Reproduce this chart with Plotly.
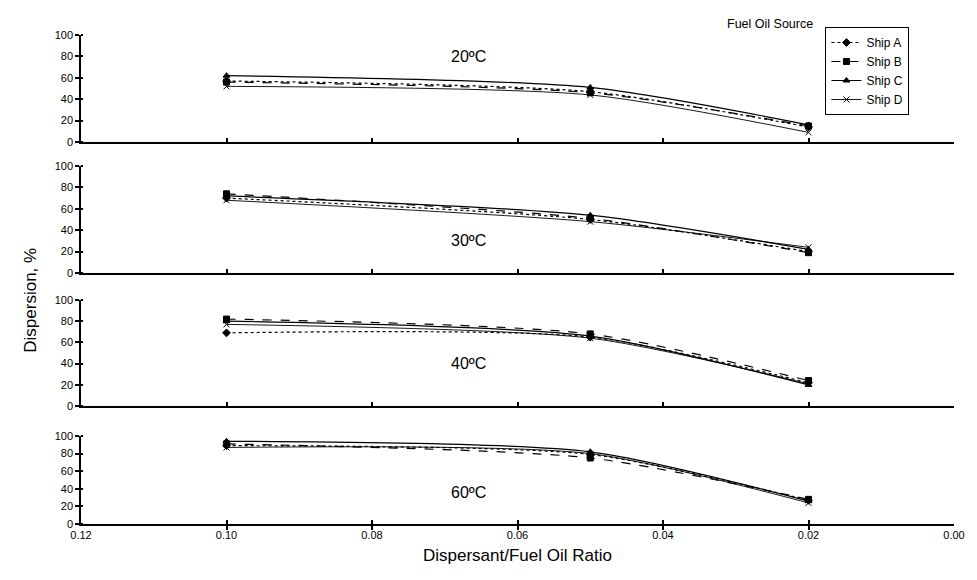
import plotly.graph_objects as go
from plotly.subplots import make_subplots

ratios = [0.10, 0.05, 0.02]
ships = ["Ship A", "Ship B", "Ship C", "Ship D"]
temps = ["20ºC", "30ºC", "40ºC", "60ºC"]

t20 = {"Ship A": [57, 47, 14], "Ship B": [56, 46, 15], "Ship C": [62, 51, 16], "Ship D": [52, 44, 9]}
t30 = {"Ship A": [70, 50, 20], "Ship B": [74, 51, 19], "Ship C": [72, 54, 22], "Ship D": [68, 48, 24]}
t40 = {"Ship A": [69, 65, 22], "Ship B": [82, 68, 24], "Ship C": [80, 66, 20], "Ship D": [77, 64, 21]}
t60 = {"Ship A": [89, 79, 27], "Ship B": [91, 75, 28], "Ship C": [94, 82, 26], "Ship D": [87, 80, 24]}
panels = [t20, t30, t40, t60]
label_y = [80, 30, 40, 36]

styles = {
    "Ship A": dict(dash="dot", symbol="diamond", msize=6, width=1.2),
    "Ship B": dict(dash="dash", symbol="square", msize=6, width=1.2),
    "Ship C": dict(dash="solid", symbol="triangle-up", msize=6, width=1.2),
    "Ship D": dict(dash="solid", symbol="x-thin", msize=6, width=0.9),
}

FONT = "Liberation Sans, Arial, sans-serif"
OFF = 8  # page body margin
W, H = 977 - OFF, 580 - OFF
# desired screen positions
SL, SR, ST, SB = 81, 957, 35, 524
L, T = SL - OFF, ST - OFF
R = W - (SR - OFF)
B = H - (SB - OFF)
ph = SB - ST
pw = SR - SL

def py(px):
    return (SB - px) / ph

def pxx(px):
    return (px - SL) / pw

fig = make_subplots(rows=4, cols=1, shared_xaxes=False, vertical_spacing=0.02)

for i, data in enumerate(panels):
    for s in ships:
        st = styles[s]
        fig.add_trace(
            go.Scatter(
                x=ratios, y=data[s], name=s, mode="lines+markers",
                line=dict(color="black", width=st["width"], dash=st["dash"],
                          shape="spline", smoothing=0.7),
                marker=dict(symbol=st["symbol"], size=st["msize"], color="black",
                            line=dict(color="black", width=1)),
                showlegend=(i == 0), legendgroup=s,
            ),
            row=i + 1, col=1,
        )

domains = [
    [py(142), py(35)],
    [py(273), py(166)],
    [py(406), py(300)],
    [py(524), py(436)],
]

for i in range(4):
    xa = "xaxis" if i == 0 else f"xaxis{i+1}"
    ya = "yaxis" if i == 0 else f"yaxis{i+1}"
    fig.layout[ya].update(
        domain=domains[i], range=[0, 100], tick0=0, dtick=20,
        showline=True, linecolor="black", linewidth=1.5,
        ticks="outside", ticklen=4, tickwidth=1.5, tickcolor="black",
        minor=dict(ticks="inside", dtick=20, tick0=0, ticklen=2, tickwidth=1.5, tickcolor="black"),
        showgrid=False, zeroline=False,
        tickfont=dict(family=FONT, size=11, color="black"),
    )
    fig.layout[xa].update(
        range=[0.12, 0.0], tick0=0, dtick=0.02, tickformat=".2f",
        showline=True, linecolor="black", linewidth=1.5,
        ticks="inside", ticklen=4, tickwidth=1.5, tickcolor="black",
        showgrid=False, zeroline=False,
        showticklabels=(i == 3),
        tickfont=dict(family=FONT, size=11, color="black"),
    )
    if i == 3:
        fig.layout[xa].update(minor=dict(ticks="outside", dtick=0.02, tick0=0, ticklen=4,
                                         tickwidth=1.5, tickcolor="black"))
    fig.add_annotation(
        x=0.0667, y=label_y[i], xref=("x" if i == 0 else f"x{i+1}"),
        yref=("y" if i == 0 else f"y{i+1}"), text=temps[i], showarrow=False,
        font=dict(family=FONT, size=16, color="black"),
    )

fig.add_annotation(
    x=pxx(18), y=py(300), xref="paper", yref="paper",
    text="Dispersion, %", textangle=-90, showarrow=False,
    font=dict(family=FONT, size=17, color="black"),
)
fig.add_annotation(
    x=0.5, y=py(567), xref="paper", yref="paper",
    text="Dispersant/Fuel Oil Ratio", showarrow=False,
    font=dict(family=FONT, size=17, color="black"),
)
fig.add_annotation(
    x=pxx(818), y=py(15), xref="paper", yref="paper",
    text="Fuel Oil Source", showarrow=False,
    font=dict(family=FONT, size=12.5, color="black"),
)

fig.update_layout(
    width=W, height=H,
    margin=dict(l=L, r=R, t=T, b=B),
    paper_bgcolor="white", plot_bgcolor="white",
    font=dict(family=FONT, color="black"),
    legend=dict(
        x=pxx(828), y=py(27), xanchor="left", yanchor="top",
        bordercolor="black", borderwidth=1, bgcolor="white",
        font=dict(family=FONT, size=12, color="black"),
        tracegroupgap=0, itemwidth=30,
    ),
)

fig.write_html("out.html")
